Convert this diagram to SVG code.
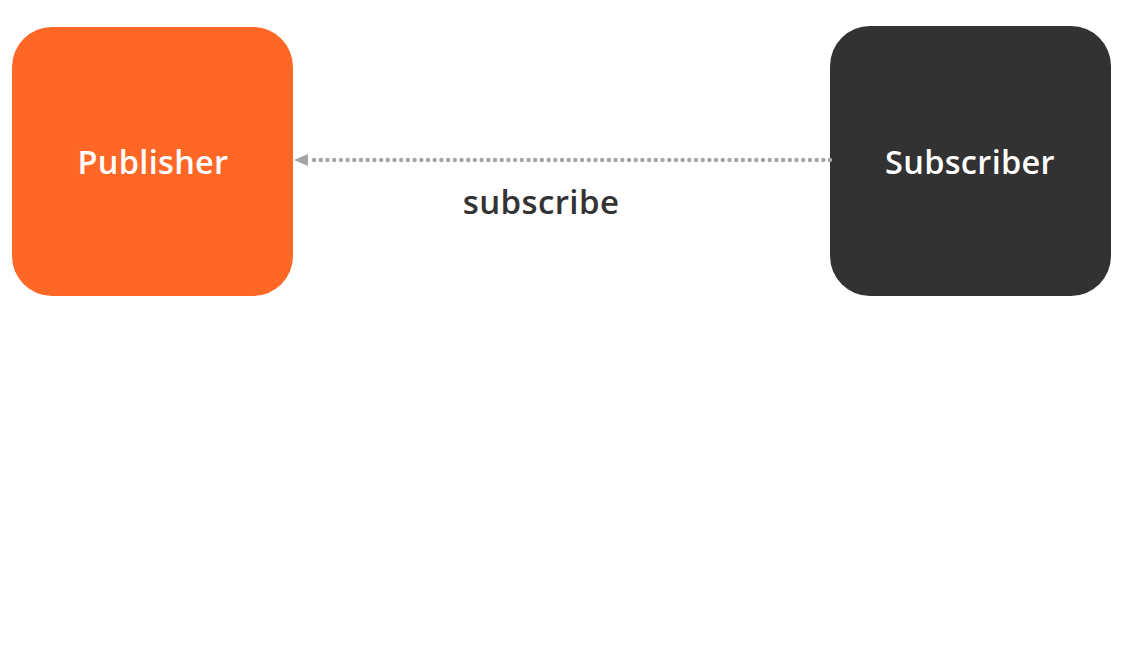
<svg xmlns="http://www.w3.org/2000/svg" width="1123" height="660" viewBox="0 0 1123 660">
<style>
.node-label{font-family:"Open Sans","Liberation Sans",sans-serif;font-weight:600;font-size:32.5px;fill:#ffffff;text-anchor:middle;letter-spacing:0.3px}
.edge-label{font-family:"Open Sans","Liberation Sans",sans-serif;font-weight:600;font-size:33px;fill:#333333;text-anchor:middle;letter-spacing:0.4px}
.dotted{stroke:#a6a6a6;stroke-width:4.5;stroke-linecap:round;stroke-dasharray:0 6.7;fill:none}
</style>
<rect width="1123" height="660" fill="#ffffff"/>
<g id="publisher">
<rect x="12" y="27" width="281" height="269" rx="40" ry="40" fill="#ff6726"/>
<text class="node-label" x="153" y="174">Publisher</text>
</g>
<g id="subscriber">
<rect x="830" y="26" width="281" height="270" rx="40" ry="40" fill="#323232"/>
<text class="node-label" x="970" y="174">Subscriber</text>
</g>
<g id="connectors">
<line class="dotted" x1="830" y1="160" x2="312" y2="160"/>
<path d="M308,154 L294,160 L308,166 Z" fill="#a6a6a6"/>
<text class="edge-label" x="541" y="214">subscribe</text>
</g>
</svg>
